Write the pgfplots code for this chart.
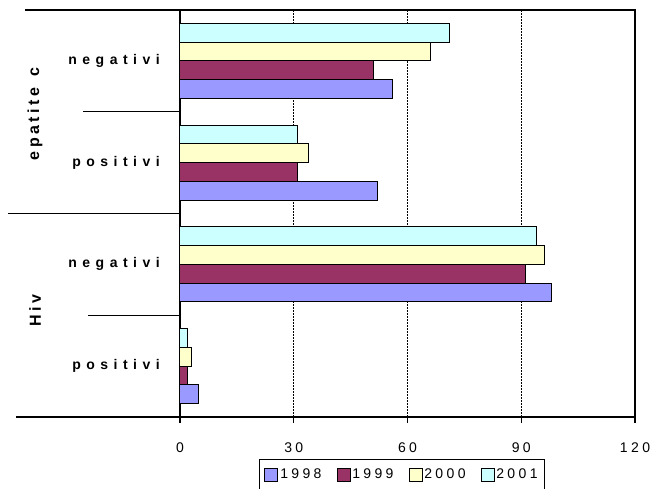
\documentclass[border=0pt]{standalone}
\usepackage{pgfplots}
\pgfplotsset{compat=1.18}
\usepackage{fontspec}
\setmainfont{Liberation Sans}
\newfontfamily\ticksf{Liberation Sans}[LetterSpace=24]
\makeatletter
\newcommand\spaced[2]{\def\sp@k{#1}\@tfor\sp@c:=#2\do{\sp@c\kern\sp@k}\unkern}
\makeatother
\definecolor{c1998}{HTML}{9999FF}
\definecolor{c1999}{HTML}{993366}
\definecolor{c2000}{HTML}{FFFFCC}
\definecolor{c2001}{HTML}{CCFFFF}
\tikzset{catlab/.style={anchor=east, inner sep=0pt, xshift=-20pt, font=\bfseries\fontsize{14}{16}\selectfont},
  grplab/.style={rotate=90, inner sep=0pt, font=\bfseries\fontsize{16}{18}\selectfont}}
\begin{document}
\begin{tikzpicture}
\useasboundingbox (0,0) rectangle (650pt,489pt);
\begin{axis}[
  at={(180pt,72pt)}, anchor=south west,
  scale only axis, width=455pt, height=407pt,
  xmin=0, xmax=120, ymin=-0.5, ymax=3.5,
  xtick={0,30,60,90,120}, ytick=\empty,
  xtick pos=bottom, tick align=outside,
  major tick length=6pt,
  /pgf/number format/assume math mode=true,
  xticklabel style={font=\ticksf\fontsize{14}{16}\selectfont, yshift=-16pt},
  xmajorgrids, grid style={black, line width=1pt, dash pattern=on 1.5pt off 1.5pt},
  axis line style={black, line width=1.2pt},
  tick style={black, line width=1.2pt},
  xbar, bar width=0.184,
  clip=false,
  legend style={at={(0.488,-0.1032)}, anchor=north, legend columns=4,
    draw=black, line width=1pt, font=\ticksf\fontsize{14}{16}\selectfont,
    inner xsep=5pt, inner ysep=7.5pt,
    /tikz/every even column/.append style={column sep=13pt}},
  legend image code/.code={\draw[#1, line width=0.8pt] (0pt,-6.5pt) rectangle (13pt,6.5pt);},
]
\addplot[fill=c1998, draw=black, line width=1pt, bar shift=-0.276] coordinates {(5,0) (98,1) (52,2) (56,3)};
\addplot[fill=c1999, draw=black, line width=1pt, bar shift=-0.092] coordinates {(2,0) (91,1) (31,2) (51,3)};
\addplot[fill=c2000, draw=black, line width=1pt, bar shift=0.092] coordinates {(3,0) (96,1) (34,2) (66,3)};
\addplot[fill=c2001, draw=black, line width=1pt, bar shift=0.276] coordinates {(2,0) (94,1) (31,2) (71,3)};
\legend{1998,1999,2000,2001}
% separators
\draw[black, line width=1.2pt] (axis cs:0,-0.5) -- ++(-164pt,0pt);
\draw[black, line width=1.2pt] (axis cs:0,0.5) -- ++(-92pt,0pt);
\draw[black, line width=1.2pt] (axis cs:0,1.5) -- ++(-172pt,0pt);
\draw[black, line width=1.2pt] (axis cs:0,2.5) -- ++(-97pt,0pt);
\draw[black, line width=1.2pt] (axis cs:0,3.5) -- ++(-155pt,0pt);
% category labels
\node[catlab] at (axis cs:0,0) {\spaced{5.5pt}{positivi}};
\node[catlab] at (axis cs:0,1) {\spaced{5.5pt}{negativi}};
\node[catlab] at (axis cs:0,2) {\spaced{5.5pt}{positivi}};
\node[catlab] at (axis cs:0,3) {\spaced{5.5pt}{negativi}};
\node[grplab] at ([xshift=-145pt, yshift=-2pt]axis cs:0,2.5) {\spaced{3.5pt}{epatite{\ }c}};
\node[grplab] at ([xshift=-145pt, yshift=5pt]axis cs:0,0.5) {\spaced{3.5pt}{Hiv}};
\end{axis}
\end{tikzpicture}
\end{document}
